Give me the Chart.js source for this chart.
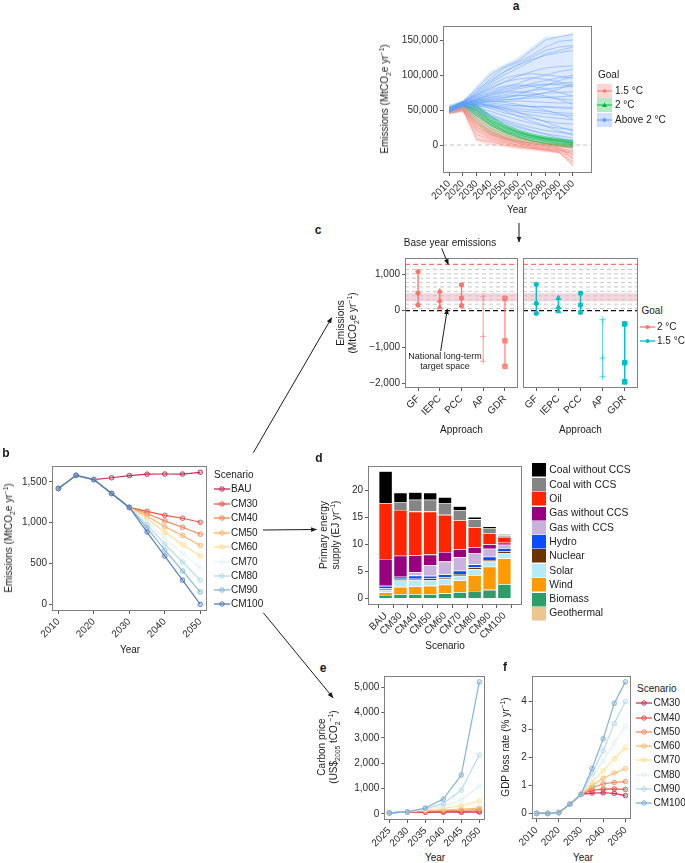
<!DOCTYPE html>
<html><head><meta charset="utf-8">
<script src="https://cdn.jsdelivr.net/npm/chart.js@4.4.1/dist/chart.umd.min.js"></script>
<style>
html,body{margin:0;padding:0;background:#fff;}
body{width:685px;height:863px;position:relative;overflow:hidden;font-family:"Liberation Sans",Arial,Helvetica,sans-serif;color:#1a1a1a;}
canvas{position:absolute;}
.t{position:absolute;white-space:nowrap;line-height:1.2;}
.t sub,.t sup{font-size:68%;line-height:0;}
svg.k{position:absolute;overflow:visible;}
</style></head><body>
<script>
// ================= DATA =================
// Panel a: scenario emission pathways (MtCO2e/yr)
const yearsA = [2010,2020,2030,2040,2050,2060,2070,2080,2090,2100];
const aBlue = [
 [50000,62000,80000,100000,112000,120000,135000,150000,155000,158000],
 [52000,61000,75000,95000,110000,118000,128000,140000,148000,150000],
 [48000,60000,72000,88000,100000,110000,120000,130000,135000,140000],
 [55000,63000,70000,80000,90000,98000,105000,110000,112000,113000],
 [50000,60000,68000,75000,82000,88000,95000,100000,105000,108000],
 [47000,58000,65000,72000,78000,82000,88000,92000,96000,100000],
 [51000,59000,66000,70000,75000,80000,84000,86000,88000,90000],
 [49000,57000,63000,68000,72000,75000,78000,80000,82000,84000],
 [53000,60000,64000,66000,68000,70000,72000,74000,75000,76000],
 [50000,58000,62000,64000,65000,66000,67000,68000,69000,70000],
 [48000,56000,60000,62000,62000,63000,62000,61000,60000,60000],
 [52000,59000,61000,60000,58000,56000,55000,54000,53000,52000],
 [50000,57000,58000,56000,54000,52000,50000,48000,46000,45000],
 [47000,55000,56000,54000,50000,46000,43000,40000,38000,36000],
 [51000,58000,57000,52000,46000,42000,38000,34000,31000,30000],
 [49000,56000,54000,48000,42000,36000,31000,27000,24000,22000],
 [50000,57000,52000,44000,36000,30000,25000,21000,18000,16000],
 [48000,55000,50000,40000,32000,25000,20000,16000,13000,10000],
 [52000,58000,53000,42000,34000,27000,21000,15000,10000,5000],
 [50000,60000,70000,85000,95000,100000,102000,100000,98000,95000],
 [51000,61000,72000,82000,90000,94000,96000,94000,90000,85000],
 [49000,60000,68000,78000,84000,86000,84000,80000,75000,70000],
 [50000,59000,65000,72000,76000,76000,74000,70000,65000,58000],
 [53000,62000,78000,92000,105000,115000,125000,135000,140000,142000],
 [50000,61000,74000,90000,104000,114000,122000,128000,132000,135000],
 [48000,59000,66000,74000,80000,84000,86000,87000,86000,84000],
 [51000,60000,64000,68000,70000,71000,70000,68000,66000,64000],
 [50000,58000,60000,58000,56000,56000,55000,55000,54000,54000],
 [49000,57000,58000,55000,52000,49000,47000,45000,43000,42000],
 [52000,59000,62000,62000,64000,66000,70000,75000,80000,88000],
 [50000,60000,63000,65000,67000,72000,78000,85000,92000,98000],
 [49000,58000,59000,57000,53000,47000,40000,33000,26000,20000],
 [51000,59000,60000,56000,49000,41000,34000,27000,20000,14000],
 [50000,58000,61000,63000,61000,58000,54000,50000,44000,38000]
];
const aGreen = [
 [50000,60000,55000,38000,27000,19000,14000,10000,8000,6000],
 [48000,58000,50000,34000,24000,17000,12000,9000,6000,4000],
 [52000,61000,56000,40000,28000,20000,14000,10000,7000,5000],
 [49000,57000,46000,30000,21000,15000,10000,7000,5000,3000],
 [51000,59000,52000,35000,25000,18000,12000,8000,5000,2000],
 [50000,58000,48000,32000,22000,15000,10000,6000,3000,1000],
 [47000,56000,42000,28000,19000,13000,8000,5000,2000,0],
 [53000,62000,54000,36000,26000,18000,13000,9000,6000,3000],
 [50000,59000,50000,33000,20000,12000,6000,2000,-1000,-3000],
 [49000,58000,44000,29000,18000,11000,6000,3000,1000,-1000],
 [51000,60000,58000,42000,30000,22000,16000,12000,9000,7000]
];
const aRed = [
 [50000,55000,30000,18000,10000,5000,2000,0,-2000,-4000],
 [48000,52000,25000,14000,7000,2000,-1000,-3000,-5000,-8000],
 [52000,56000,35000,20000,12000,6000,3000,1000,-1000,-3000],
 [46000,50000,20000,10000,4000,0,-3000,-5000,-7000,-10000],
 [50000,54000,28000,16000,9000,4000,0,-3000,-6000,-14000],
 [49000,53000,8000,5000,0,-3000,-5000,-6000,-8000,-12000],
 [51000,55000,32000,19000,11000,6000,2000,-1000,-4000,-20000],
 [47000,51000,22000,12000,5000,0,-4000,-7000,-10000,-30000],
 [50000,56000,38000,24000,15000,9000,5000,2000,0,-2000],
 [48000,52000,26000,15000,8000,3000,-2000,-6000,-9000,-18000],
 [45000,49000,15000,8000,2000,-2000,-5000,-8000,-11000,-24000]
];
const aBlueHi = [58000,63000,85000,105000,115000,125000,140000,155000,155000,160000];
const aBlueLo = [45000,50000,40000,30000,20000,12000,8000,5000,3000,0];
const aGreenHi = [55000,62000,58000,42000,30000,22000,16000,12000,9000,7000];
const aGreenLo = [45000,48000,30000,15000,8000,3000,0,-2000,-4000,-5000];
const aRedHi = [55000,60000,50000,30000,20000,12000,8000,5000,3000,2000];
const aRedLo = [44000,46000,5000,0,-3000,-6000,-8000,-10000,-12000,-30000];

// Panel b: national emissions by scenario
const yearsB = [2010,2015,2020,2025,2030,2035,2040,2045,2050];
const scenB = ['BAU','CM30','CM40','CM50','CM60','CM70','CM80','CM90','CM100'];
const bBAU   = [1419,1580,1528,1550,1577,1594,1596,1595,1617];
const bCM30  = [1419,1580,1528,1358,1187,1139,1090,1054,1005];
const bCM40  = [1419,1580,1528,1358,1187,1112,1022,944,859];
const bCM50  = [1419,1580,1528,1358,1187,1082,949,843,721];
const bCM60  = [1419,1580,1528,1358,1187,1050,880,734,591];
const bCM70  = [1419,1580,1528,1358,1187,1012,807,624,445];
const bCM80  = [1419,1580,1528,1358,1187,975,737,518,296];
const bCM90  = [1419,1580,1528,1358,1187,935,664,409,150];
const bCM100 = [1419,1580,1528,1358,1187,885,591,296,0];

// Panel c: allocation ranges (low, mid, high)
const approaches = ['GF','IEPC','PCC','AP','GDR'];
const c2Low   = [155,92,136,-1390,-1525];
const c2Mid   = [480,272,345,-707,-824];
const c2High  = [1070,527,708,392,337];
const c15Low  = [-72,-18,-45,-1813,-1950];
const c15Mid  = [200,92,155,-1296,-1423];
const c15High = [720,345,480,-245,-362];
const cBaseYear = 1270;
const cTargetLevels = [1130,1010,890,770,650,530,410,300,180,60];
const cTargetBand = [255,480];

// Panel d: primary energy supply (EJ/yr)
const scenD = ['BAU','CM30','CM40','CM50','CM60','CM70','CM80','CM90','CM100'];
const dGeothermal = [0.03,0.03,0.03,0.03,0.03,0.03,0.03,0.03,0.03];
const dBiomass    = [0.6,0.75,0.75,0.75,0.9,1.1,1.35,1.55,2.6];
const dWind       = [0.45,1.35,1.45,1.55,1.6,2.2,2.95,4.3,4.8];
const dSolar      = [0.5,1.2,1.15,1.1,1.1,0.85,1.1,0.95,1.0];
const dNuclear    = [0.25,0.3,0.25,0.3,0.3,0.35,0.3,0.3,0.35];
const dHydro      = [0.5,0.4,0.6,0.45,0.5,0.6,0.6,0.6,0.55];
const dGasCCS     = [0,0,0.6,2.0,2.4,2.5,2.1,1.5,0.65];
const dGasNoCCS   = [5.0,3.9,3.15,1.95,1.8,1.5,1.1,0.8,0.35];
const dOil        = [10.3,8.5,8.15,8.0,6.9,5.4,3.7,2.1,1.1];
const dCoalCCS    = [0,1.5,2.2,2.2,2.2,1.8,1.45,0.95,0.3];
const dCoalNoCCS  = [6.0,1.7,1.4,1.3,1.1,0.8,0.45,0.3,0.2];

// Panel e: carbon price (US$2005/tCO2)
const yearsE = [2025,2030,2035,2040,2045,2050];
const scenEF = ['CM30','CM40','CM50','CM60','CM70','CM80','CM90','CM100'];
const eCM30  = [35,75,60,62,65,68];
const eCM40  = [35,75,80,90,100,110];
const eCM50  = [35,75,100,120,140,165];
const eCM60  = [35,75,120,150,190,225];
const eCM70  = [35,75,150,210,320,505];
const eCM80  = [35,75,180,290,560,1090];
const eCM90  = [35,75,200,400,935,2320];
const eCM100 = [35,75,230,580,1530,5210];

// Panel f: GDP loss rate (%/yr)
const yearsF = [2010,2015,2020,2025,2030,2035,2040,2045,2050];
const fCM30  = [0,0,0.03,0.33,0.68,0.73,0.74,0.72,0.64];
const fCM40  = [0,0,0.03,0.33,0.68,0.83,0.87,0.88,0.86];
const fCM50  = [0,0,0.03,0.33,0.68,0.92,1.06,1.11,1.14];
const fCM60  = [0,0,0.03,0.33,0.68,1.0,1.26,1.45,1.6];
const fCM70  = [0,0,0.03,0.33,0.68,1.12,1.53,1.96,2.35];
const fCM80  = [0,0,0.03,0.33,0.68,1.28,1.88,2.53,3.12];
const fCM90  = [0,0,0.03,0.33,0.68,1.45,2.24,3.22,4.0];
const fCM100 = [0,0,0.03,0.33,0.68,1.61,2.67,3.94,4.71];

// ================= HELPERS =================
const FONT = '"Liberation Sans", Arial, Helvetica, sans-serif';
const palB = ['#BF1B45','#E5453A','#F57A4C','#FCAB62','#FEDB8A','#E3F2F6','#B0D8E9','#7EB0D5','#4A74B4'];
const palEF = ['#C3214B','#E5453A','#F4845A','#FDB668','#FEE08E','#DDEFF6','#AFD6EA','#74AAD3'];

function numLabel(v){ const s = Math.abs(v).toLocaleString('en-US'); return v < 0 ? '\u2212' + s : s; }
function pts(xs, ys){ return xs.map((x,i)=>({x:x, y:ys[i]})); }
function alpha(hex, a){ const n=parseInt(hex.slice(1),16); return `rgba(${n>>16},${(n>>8)&255},${n&255},${a})`; }

function linAxis(min, max, tickVals, fmt, rot){
  return {
    type:'linear', min:min, max:max,
    afterBuildTicks: s => { s.ticks = tickVals.map(v => ({value:v})); },
    grid:{display:true, drawOnChartArea:false, drawTicks:true, tickLength:3, color:'#333', lineWidth:0.8},
    border:{display:false},
    ticks:{font:{family:FONT, size:10}, color:'#2a2a2a', padding:2, autoSkip:false,
           maxRotation:rot||0, minRotation:rot||0, callback: fmt || (v => numLabel(v))}
  };
}

const framePlugin = {
  id:'frame',
  beforeDatasetsDraw(chart, args, opts){
    const ctx = chart.ctx, a = chart.chartArea, y = chart.scales.y;
    ctx.save();
    ctx.beginPath(); ctx.rect(a.left, a.top, a.right-a.left, a.bottom-a.top); ctx.clip();
    (opts.bands||[]).forEach(b => {
      const y1 = y.getPixelForValue(b.from), y2 = y.getPixelForValue(b.to);
      ctx.fillStyle = b.color; ctx.fillRect(a.left, Math.min(y1,y2), a.right-a.left, Math.abs(y2-y1));
    });
    (opts.hlines||[]).forEach(h => {
      const py = y.getPixelForValue(h.value);
      ctx.strokeStyle = h.color; ctx.lineWidth = h.width||1; ctx.setLineDash(h.dash||[]);
      ctx.beginPath(); ctx.moveTo(a.left, py); ctx.lineTo(a.right, py); ctx.stroke();
    });
    ctx.restore();
  },
  afterDraw(chart){
    const ctx = chart.ctx, a = chart.chartArea;
    ctx.save(); ctx.strokeStyle = '#808080'; ctx.lineWidth = 1; ctx.setLineDash([]);
    ctx.strokeRect(Math.round(a.left)+0.5, Math.round(a.top)+0.5, Math.round(a.right-a.left)-1, Math.round(a.bottom-a.top)-1);
    ctx.restore();
  }
};
Chart.register(framePlugin);

function makeChart(box, plot, config){
  const c = document.createElement('canvas');
  c.width = box.r - box.l; c.height = box.b - box.t;
  c.style.left = box.l+'px'; c.style.top = box.t+'px';
  c.style.width = c.width+'px'; c.style.height = c.height+'px';
  document.body.appendChild(c);
  const o = config.options;
  o.responsive = false; o.devicePixelRatio = 1; o.animation = false; o.events = [];
  o.layout = {autoPadding:false, padding:{left:0, top:plot.t-box.t, right:box.r-plot.r, bottom:0}};
  const yW = plot.l - box.l, xH = box.b - plot.b;
  o.scales.x.afterFit = s => { s.height = xH; };
  o.scales.y.afterFit = s => { s.width = yW; };
  o.plugins = Object.assign({legend:{display:false}, tooltip:{enabled:false}}, o.plugins||{});
  return new Chart(c, config);
}

function T(html, x, y, o){
  o = o||{};
  const d = document.createElement('div');
  d.className = 't'; d.innerHTML = html;
  d.style.left = x+'px'; d.style.top = y+'px';
  d.style.fontSize = (o.size||10)+'px';
  if (o.bold) d.style.fontWeight = 'bold';
  if (o.center) d.style.textAlign = 'center';
  const ax = o.align==='left' ? '0' : '-50%';
  d.style.transform = `translate(${ax},-50%)` + (o.rot ? ' rotate(-90deg)' : '');
  document.body.appendChild(d);
}
function K(svgInner, x, y, w, h){
  const ns='http://www.w3.org/2000/svg';
  const s = document.createElementNS(ns,'svg');
  s.setAttribute('class','k'); s.setAttribute('width',w); s.setAttribute('height',h);
  s.style.left = x+'px'; s.style.top = y+'px';
  s.innerHTML = svgInner;
  document.body.appendChild(s);
}

// ================= PANEL A =================
(function(){
  const ds = [];
  const line = (v, col) => ({type:'line', data:pts(yearsA, v), borderColor:col, borderWidth:0.6, pointRadius:0, fill:false, tension:0});
  aBlue.forEach(v => ds.push(line(v, 'rgba(97,156,255,0.8)')));
  aGreen.forEach(v => ds.push(line(v, 'rgba(0,186,56,0.75)')));
  aRed.forEach(v => ds.push(line(v, 'rgba(248,118,109,0.75)')));
  const rib = (hi, lo, col) => {
    ds.push({type:'line', data:pts(yearsA, hi), borderWidth:0, pointRadius:0, fill:'+1', backgroundColor:col});
    ds.push({type:'line', data:pts(yearsA, lo), borderWidth:0, pointRadius:0, fill:false});
  };
  rib(aBlueHi, aBlueLo, 'rgba(97,156,255,0.22)');
  rib(aGreenHi, aGreenLo, 'rgba(0,186,56,0.2)');
  rib(aRedHi, aRedLo, 'rgba(248,118,109,0.25)');
  makeChart({l:370,t:16,r:600,b:220},{l:443,t:26,r:592,b:173},{
    type:'line', data:{datasets:ds},
    options:{scales:{x:linAxis(2005.6,2113.8,yearsA,v=>String(v),45), y:linAxis(-40000,170000,[0,50000,100000,150000])},
      plugins:{frame:{hlines:[{value:0,color:'#c4c4c4',dash:[4,3],width:1}]}}}
  });
})();

// ================= PANEL B =================
(function(){
  const series = [bBAU,bCM30,bCM40,bCM50,bCM60,bCM70,bCM80,bCM90,bCM100];
  const ds = series.map((v,i) => ({data:pts(yearsB, v), borderColor:alpha(palB[i],0.9), borderWidth:1.2,
    pointRadius:2.3, pointBorderWidth:0.8, pointBorderColor:palB[i], pointBackgroundColor:alpha(palB[i],0.25), tension:0})).reverse();
  makeChart({l:0,t:458,r:212,b:650},{l:52,t:465,r:207,b:611},{
    type:'line', data:{datasets:ds},
    options:{scales:{x:linAxis(2008.2,2051.9,[2010,2020,2030,2040,2050],v=>String(v),45), y:linAxis(-81.5,1694,[0,500,1000,1500])}}
  });
})();

// ================= PANEL C =================
(function(){
  const shapes = ['circle','triangle','rect','cross','rect'];
  const radii = [2.2,2.8,2.6,3.2,3.2];
  const base = {bands:[{from:cTargetBand[0],to:cTargetBand[1],color:'rgba(232,160,180,0.45)'}],
    hlines: cTargetLevels.map(v=>({value:v,color:'#c9c9c9',dash:[4,3],width:1}))
      .concat([{value:cBaseYear,color:'#F8766D',dash:[5,3],width:1.4},{value:0,color:'#111',dash:[5,3],width:1.2}])};
  function mk(lo, mid, hi, col, alphas){
    return approaches.map((a,i) => {
      const c = alpha(col, alphas[i]);
      return {data:[{x:i,y:lo[i]},{x:i,y:mid[i]},{x:i,y:hi[i]}], borderColor:c, borderWidth:1.4,
        pointStyle:shapes[i], pointRadius:radii[i], pointBorderColor:c, pointBackgroundColor:c, pointBorderWidth:1, tension:0};
    });
  }
  const xAx = () => linAxis(-0.6,4.6,[0,1,2,3,4],v=>approaches[v],45);
  makeChart({l:358,t:250,r:518,b:425},{l:405,t:258,r:518,b:388},{
    type:'line', data:{datasets:mk(c2Low,c2Mid,c2High,'#F8766D',[1,1,1,0.5,0.8])},
    options:{scales:{x:xAx(), y:linAxis(-2118,1444,[-2000,-1000,0,1000])}, plugins:{frame:base}}
  });
  const yR = linAxis(-2118,1444,[0]); yR.ticks.display=false; yR.grid.display=false;
  makeChart({l:518,t:250,r:640,b:425},{l:523,t:258,r:638,b:388},{
    type:'line', data:{datasets:mk(c15Low,c15Mid,c15High,'#00BFC4',[1,1,1,0.6,1])},
    options:{scales:{x:xAx(), y:yR}, plugins:{frame:base}}
  });
})();

// ================= PANEL D =================
const dSeries = [
  ['Geothermal', dGeothermal, '#EDC58F'],
  ['Biomass', dBiomass, '#2E9E68'],
  ['Wind', dWind, '#FF9A00'],
  ['Solar', dSolar, '#B5EAF7'],
  ['Nuclear', dNuclear, '#6B3300'],
  ['Hydro', dHydro, '#0A4DFF'],
  ['Gas with CCS', dGasCCS, '#C9B3DD'],
  ['Gas without CCS', dGasNoCCS, '#980080'],
  ['Oil', dOil, '#FF2500'],
  ['Coal with CCS', dCoalCCS, '#858585'],
  ['Coal without CCS', dCoalNoCCS, '#000000']
];
(function(){
  const ds = dSeries.map(s => ({label:s[0], data:s[1].map((v,i)=>({x:i,y:v})), backgroundColor:s[2],
    borderColor:'#ffffff', borderWidth:0.6, barPercentage:0.92, categoryPercentage:1.0}));
  const x = linAxis(-0.61,8.61,[0,1,2,3,4,5,6,7,8],v=>scenD[v],45); x.stacked = true;
  const y = linAxis(-1.24,24.6,[0,5,10,15,20]); y.stacked = true;
  makeChart({l:340,t:458,r:525,b:642},{l:368,t:465,r:522,b:605},{
    type:'bar', data:{datasets:ds}, options:{scales:{x:x,y:y}}
  });
})();

// ================= PANEL E =================
(function(){
  const series = [eCM30,eCM40,eCM50,eCM60,eCM70,eCM80,eCM90,eCM100];
  const ds = series.map((v,i) => ({data:pts(yearsE, v), borderColor:alpha(palEF[i],0.9), borderWidth:1.2,
    pointRadius:2.3, pointBorderWidth:0.8, pointBorderColor:palEF[i], pointBackgroundColor:alpha(palEF[i],0.25), tension:0})).reverse();
  makeChart({l:340,t:668,r:490,b:850},{l:384.3,t:674,r:486,b:820},{
    type:'line', data:{datasets:ds},
    options:{scales:{x:linAxis(2023.6,2051.65,yearsE,v=>String(v),45), y:linAxis(-245,5442,[0,1000,2000,3000,4000,5000])}}
  });
})();

// ================= PANEL F =================
(function(){
  const series = [fCM30,fCM40,fCM50,fCM60,fCM70,fCM80,fCM90,fCM100];
  const ds = series.map((v,i) => ({data:pts(yearsF, v), borderColor:alpha(palEF[i],0.9), borderWidth:1.2,
    pointRadius:2.3, pointBorderWidth:0.8, pointBorderColor:palEF[i], pointBackgroundColor:alpha(palEF[i],0.25), tension:0})).reverse();
  makeChart({l:505,t:668,r:636,b:850},{l:531.7,t:674,r:633.3,b:819.3},{
    type:'line', data:{datasets:ds},
    options:{scales:{x:linAxis(2007.8,2052.46,[2010,2020,2030,2040,2050],v=>String(v),45), y:linAxis(-0.21,4.92,[0,1,2,3,4],v=>String(v))}}
  });
})();

// ================= TEXT =================
const EM = 'Emissions (MtCO<sub>2</sub>e yr<sup>\u22121</sup>)';
T('a', 516, 6, {bold:true, size:12});
T('b', 6, 453, {bold:true, size:12});
T('c', 318, 230, {bold:true, size:12});
T('d', 319, 458, {bold:true, size:12});
T('e', 323, 668, {bold:true, size:12});
T('f', 505, 667, {bold:true, size:12});

// axis titles
T(EM, 385, 99, {rot:true});
T('Year', 517, 210);
T('Emissions<br>(MtCO<sub>2</sub>e yr<sup>\u22121</sup>)', 347, 323, {rot:true, center:true});
T('Approach', 461.5, 429.5);
T('Approach', 580.5, 429.5);
T(EM, 9, 538, {rot:true});
T('Year', 130, 650);
T('Primary energy<br>supply (EJ yr<sup>\u22121</sup>)', 330, 535, {rot:true, center:true});
T('Scenario', 445, 646);
T('Carbon price<br>(US$<sub>2005</sub> tCO<sub>2</sub><sup>\u22121</sup>)', 328, 747, {rot:true, center:true});
T('Year', 435, 858);
T('GDP loss rate (% yr<sup>\u22121</sup>)', 506, 747, {rot:true});
T('Year', 583, 858);

// annotations c
T('Base year emissions', 450, 243, {size:10});
T('National long-term<br>target space', 445, 361.5, {size:9, center:true});

// legend a
T('Goal', 598, 75, {align:'left'});
const aLeg = [['1.5 °C','248,118,109','circle'],['2 °C','0,186,56','tri'],['Above 2 °C','97,156,255','sq']];
aLeg.forEach((L,i) => {
  const yc = [90.7,105.3,120][i];
  const col = `rgb(${L[1]})`;
  let sh = L[2]==='circle' ? `<circle cx="7.5" cy="7" r="1.8" fill="${col}"/>` :
           L[2]==='tri' ? `<path d="M7.5,4.6 L10,9 L5,9 Z" fill="${col}"/>` :
           `<rect x="5.8" y="5.3" width="3.4" height="3.4" fill="${col}"/>`;
  K(`<rect x="0" y="0" width="15" height="14" fill="rgba(${L[1]},0.3)"/><line x1="0" y1="7" x2="15" y2="7" stroke="${col}" stroke-width="1"/>${sh}`, 596.5, yc-7, 15, 14);
  T(L[0], 615, yc, {align:'left'});
});

// legend c
T('Goal', 641.5, 311, {align:'left'});
[['2 °C','#F8766D',327],['1.5 °C','#00BFC4',341]].forEach(L => {
  K(`<line x1="0" y1="5" x2="15" y2="5" stroke="${L[1]}" stroke-width="1.3"/><circle cx="7.5" cy="5" r="2" fill="${L[1]}"/>`, 640, L[2]-5, 15, 10);
  T(L[0], 657, L[2], {align:'left'});
});

// legend b
T('Scenario', 214, 475, {align:'left'});
const bLegY = [489.3,504,518.3,532.7,547.3,561.7,576,590,604.3];
scenB.forEach((s,i) => {
  K(`<line x1="0" y1="5" x2="16" y2="5" stroke="${palB[i]}" stroke-width="1.2"/><circle cx="8" cy="5" r="2.3" fill="${alpha(palB[i],0.25)}" stroke="${palB[i]}" stroke-width="0.8"/>`, 213.5, bLegY[i]-5, 16, 10);
  T(s, 231, bLegY[i], {align:'left'});
});

// legend d
const dLegY = [470,484.7,499,513.3,527.7,542,556,570.7,585,599.3,613.3];
dSeries.slice().reverse().forEach((s,i) => {
  K(`<rect x="0" y="0" width="14" height="13.5" fill="${s[2]}"/>`, 531.7, dLegY[i]-6.75, 14, 13.5);
  T(s[0], 549.3, dLegY[i], {align:'left', size:10.3});
});

// legend f
T('Scenario', 637, 689, {align:'left'});
const fLegY = [703.3,717.7,732,746.3,760.3,774.7,789,803.3];
scenEF.forEach((s,i) => {
  K(`<line x1="0" y1="5" x2="16" y2="5" stroke="${palEF[i]}" stroke-width="1.2"/><circle cx="8" cy="5" r="2.3" fill="${alpha(palEF[i],0.25)}" stroke="${palEF[i]}" stroke-width="0.8"/>`, 636, fLegY[i]-5, 16, 10);
  T(s, 653.5, fLegY[i], {align:'left'});
});

// arrows
(function(){
  const ns='http://www.w3.org/2000/svg';
  const s = document.createElementNS(ns,'svg');
  s.setAttribute('width',685); s.setAttribute('height',863);
  s.style.position='absolute'; s.style.left='0'; s.style.top='0'; s.style.zIndex='5'; s.style.pointerEvents='none';
  const arrows = [[519,223,519,242],[441.7,248.3,448.3,264.5],[440.7,351,447.3,309],[253.3,452.7,331.7,317.7],[263,530,316.5,529.5],[263.3,612.7,333,697.7]];
  let h = '<defs><marker id="ah" viewBox="0 0 10 10" refX="9" refY="5" markerWidth="6" markerHeight="6" orient="auto" markerUnits="userSpaceOnUse"><path d="M0,1 L10,5 L0,9 Z" fill="#1a1a1a"/></marker></defs>';
  arrows.forEach(a => { h += `<line x1="${a[0]}" y1="${a[1]}" x2="${a[2]}" y2="${a[3]}" stroke="#1a1a1a" stroke-width="1" marker-end="url(#ah)"/>`; });
  s.innerHTML = h;
  document.body.appendChild(s);
})();
</script>
</body></html>
